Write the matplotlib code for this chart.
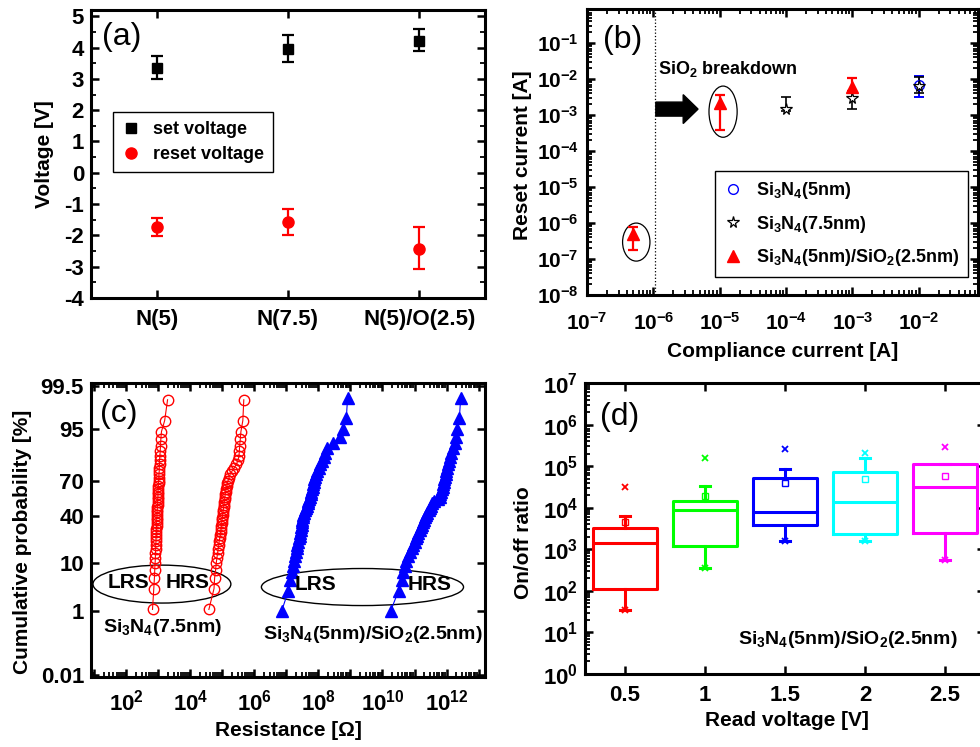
import math
import numpy as np
import matplotlib
matplotlib.use("Agg")
import matplotlib.pyplot as plt
from matplotlib.patches import Ellipse, FancyArrow
from matplotlib.lines import Line2D
from matplotlib import ticker

# ---- (a) set / reset voltage per stack
stacks = ["N(5)", "N(7.5)", "N(5)/O(2.5)"]
set_v = [3.36, 3.96, 4.22]
set_lo = [2.98, 3.55, 3.89]
set_hi = [3.73, 4.39, 4.59]
reset_v = [-1.72, -1.56, -2.42]
reset_lo = [-2.01, -1.98, -3.08]
reset_hi = [-1.43, -1.16, -1.74]

# ---- (b) reset current vs compliance current
cc_n5 = [1e-2]
ir_n5 = [6.8e-3]
ir_n5_lo = [3.2e-3]
ir_n5_hi = [1.2e-2]
cc_n75 = [1e-4, 1e-3, 1e-2]
ir_n75 = [1.5e-3, 2.9e-3, 6.5e-3]
ir_n75_lo = [1.3e-3, 1.5e-3, 4.1e-3]
ir_n75_hi = [3.2e-3, 4.7e-3, 1.12e-2]
cc_no = [5e-7, 1e-5, 1e-3]
ir_no = [5.1e-7, 2.1e-3, 5.9e-3]
ir_no_lo = [1.8e-7, 3.8e-4, 4.5e-3]
ir_no_hi = [7.9e-7, 3.5e-3, 1.07e-2]

# ---- (c) resistance distributions, log10(R) sorted
red_lrs_log = [2.82, 2.86, 2.88, 2.89, 2.90, 2.91, 2.91, 2.92, 2.92, 2.93,
               2.93, 2.94, 2.94, 2.94, 2.95, 2.95, 2.95, 2.96, 2.96, 2.96,
               2.97, 2.97, 2.98, 2.98, 2.98, 2.99, 2.99, 2.99, 3.00, 3.00,
               3.01, 3.01, 3.02, 3.02, 3.03, 3.03, 3.04, 3.04, 3.05, 3.06,
               3.07, 3.08, 3.10, 3.20, 3.29]
red_hrs_log = [4.58, 4.74, 4.76, 4.79, 4.81, 4.83, 4.85, 4.87, 4.89, 4.90,
               4.92, 4.94, 4.95, 4.96, 4.97, 4.98, 4.99, 5.00, 5.01, 5.02,
               5.03, 5.04, 5.05, 5.06, 5.07, 5.08, 5.09, 5.10, 5.12, 5.14,
               5.16, 5.18, 5.21, 5.24, 5.30, 5.37, 5.44, 5.49, 5.52, 5.53,
               5.54, 5.56, 5.58, 5.64, 5.67]
blue_lrs_log = [6.85, 7.06, 7.12, 7.17, 7.21, 7.24, 7.27, 7.30, 7.32, 7.34,
                7.36, 7.39, 7.41, 7.43, 7.45, 7.47, 7.48, 7.49, 7.50, 7.52,
                7.53, 7.56, 7.59, 7.62, 7.64, 7.66, 7.68, 7.71, 7.74, 7.77,
                7.78, 7.80, 7.82, 7.84, 7.85, 7.87, 7.90, 7.93, 7.97, 8.02,
                8.06, 8.11, 8.17, 8.22, 8.28, 8.45, 8.66, 8.77, 8.87, 8.91]
blue_hrs_log = [10.25, 10.50, 10.62, 10.65, 10.69, 10.74, 10.80, 10.86, 10.91, 10.96,
                11.00, 11.04, 11.08, 11.12, 11.16, 11.20, 11.24, 11.27, 11.30, 11.33,
                11.36, 11.40, 11.44, 11.48, 11.52, 11.56, 11.62, 11.72, 11.78, 11.80,
                11.83, 11.86, 11.88, 11.90, 11.92, 11.93, 11.95, 11.97, 11.99, 12.01,
                12.03, 12.07, 12.11, 12.15, 12.20, 12.25, 12.29, 12.33, 12.40, 12.44]
prob_ticks = [0.01, 1, 10, 40, 70, 95, 99.5]
prob_labels = ["0.01", "1", "10", "40", "70", "95", "99.5"]

# ---- (d) on/off ratio box statistics per read voltage
read_v = [0.5, 1.0, 1.5, 2.0, 2.5]
ratio_whislo = [35, 360, 1550, 1550, 540]
ratio_q1 = [110, 1200, 3800, 2330, 2450]
ratio_med = [1400, 8700, 8000, 13700, 32000]
ratio_q3 = [3300, 14800, 53000, 72000, 112000]
ratio_whishi = [6300, 33000, 84000, 160000, 115000]
ratio_mean = [4600, 19000, 39000, 49000, 59000]
ratio_max = [32000, 160000, 260000, 210000, 285000]
box_colors = ["#ff0000", "#00ff00", "#0000ff", "#00ffff", "#ff00ff"]

plt.rcParams.update({
    "font.family": ["Liberation Sans", "DejaVu Sans"],
    "font.weight": "bold",
    "axes.labelweight": "bold",
    "mathtext.default": "regular",
    "axes.unicode_minus": False,
    "axes.linewidth": 2.2,
    "font.size": 15,
})

W, H = 980, 747
fig = plt.figure(figsize=(W / 100, H / 100), dpi=100)


def place(l, r, t, b):
    return fig.add_axes([l / W, 1 - b / H, (r - l) / W, (b - t) / H])


def style(ax):
    ax.tick_params(which="both", direction="in", top=True, right=True, labelsize=16)
    ax.tick_params(which="major", length=6, width=1.8, pad=5)
    ax.tick_params(which="minor", length=3.5, width=1.3)


_erf = np.vectorize(math.erf, otypes=[float])


def prob_to_z(p):
    q = np.clip(np.asarray(p, dtype=float) / 100.0, 1e-9, 1 - 1e-9)
    lo = np.full(q.shape, -8.0)
    hi = np.full(q.shape, 8.0)
    for _ in range(50):
        mid = 0.5 * (lo + hi)
        below = 0.5 * (1 + _erf(mid / np.sqrt(2))) < q
        lo = np.where(below, mid, lo)
        hi = np.where(below, hi, mid)
    return 0.5 * (lo + hi)


def z_to_prob(z):
    return 50.0 * (1 + _erf(np.asarray(z, dtype=float) / np.sqrt(2)))


# ================= (a)
ax = place(91, 485, 10, 298)
style(ax)
xa = np.arange(1, len(stacks) + 1)
ax.errorbar(xa, set_v, yerr=[np.subtract(set_v, set_lo), np.subtract(set_hi, set_v)],
            fmt="s", color="k", ms=7, capsize=4.5, elinewidth=1.6, capthick=1.6)
ax.errorbar(xa, reset_v, yerr=[np.subtract(reset_v, reset_lo), np.subtract(reset_hi, reset_v)],
            fmt="o", color="#ff0000", ms=8, capsize=4.5, elinewidth=1.6, capthick=1.6)
ax.set_xlim(0.5, 3.5)
ax.set_ylim(-4, 5.2)
ax.set_xticks(xa)
ax.set_xticklabels(stacks, fontsize=16)
ax.tick_params(axis="x", pad=8)
ax.yaxis.set_major_locator(ticker.MultipleLocator(1))
ax.yaxis.set_minor_locator(ticker.MultipleLocator(0.5))
ax.set_ylabel("Voltage [V]", fontsize=15)
ax.yaxis.set_label_coords(-0.095, 0.5)
hs = [Line2D([], [], ls="", marker="s", color="k", ms=7),
      Line2D([], [], ls="", marker="o", color="#ff0000", ms=8)]
leg = ax.legend(hs, ["set voltage", "reset voltage"], loc="upper left",
                bbox_to_anchor=(0.056, 0.646), borderaxespad=0, fancybox=False,
                edgecolor="k", framealpha=1, fontsize=13, handlelength=1.0,
                handletextpad=0.7, labelspacing=0.45, borderpad=0.5)
leg.get_frame().set_linewidth(1.0)
ax.text(0.028, 0.905, "(a)", transform=ax.transAxes, fontsize=23,
        fontweight="normal", va="center")

# ================= (b)
ax = place(587, 978, 9, 295)
style(ax)
ax.set_xscale("log")
ax.set_yscale("log")
ax.errorbar(cc_n5, ir_n5, yerr=[np.subtract(ir_n5, ir_n5_lo), np.subtract(ir_n5_hi, ir_n5)],
            fmt="none", ecolor="#0000ff", capsize=3.3, elinewidth=1.4, capthick=1.4)
ax.errorbar(cc_n75, ir_n75, yerr=[np.subtract(ir_n75, ir_n75_lo), np.subtract(ir_n75_hi, ir_n75)],
            fmt="none", ecolor="k", capsize=3.3, elinewidth=1.2, capthick=1.2)
ax.errorbar(cc_no, ir_no, yerr=[np.subtract(ir_no, ir_no_lo), np.subtract(ir_no_hi, ir_no)],
            fmt="none", ecolor="#ff0000", capsize=3.3, elinewidth=1.6, capthick=1.6)
ax.plot(cc_n5, ir_n5, ls="", marker="o", ms=7, mfc="none", mec="#0000ff", mew=1.0,
        label="Si$_3$N$_4$(5nm)")
ax.plot(cc_n75, ir_n75, ls="", marker="*", ms=8.5, mfc="white", mec="k", mew=0.9,
        label="Si$_3$N$_4$(7.5nm)")
ax.plot(cc_no, ir_no, ls="", marker="^", ms=9, color="#ff0000",
        label="Si$_3$N$_4$(5nm)/SiO$_2$(2.5nm)")
ax.set_xlim(1e-7, 7.8e-2)
ax.set_ylim(1e-8, 0.88)
for axis in (ax.xaxis, ax.yaxis):
    axis.set_major_locator(ticker.LogLocator(base=10, numticks=15))
    axis.set_minor_locator(ticker.LogLocator(base=10, subs=np.arange(2, 10), numticks=15))
    axis.set_minor_formatter(ticker.NullFormatter())
ax.tick_params(axis="x", pad=12, labelsize=15)
ax.tick_params(axis="y", pad=6, labelsize=15)
ax.axvline(1.05e-6, color="k", ls=":", lw=0.9)
ax.set_xlabel("Compliance current [A]", fontsize=15)
ax.xaxis.set_label_coords(0.5, -0.165)
ax.set_ylabel("Reset current [A]", fontsize=15)
ax.yaxis.set_label_coords(-0.14, 0.49)
leg = ax.legend(loc="upper left", bbox_to_anchor=(0.327, 0.434), borderaxespad=0,
                fancybox=False, edgecolor="k", framealpha=1, fontsize=13,
                handlelength=1.0, handletextpad=0.8, labelspacing=0.7, borderpad=0.5)
leg.get_frame().set_linewidth(1.0)
ax.add_patch(Ellipse((0.126, 0.185), 0.070, 0.133, transform=ax.transAxes,
                     fill=False, ec="k", lw=0.9))
ax.add_patch(Ellipse((0.348, 0.641), 0.072, 0.179, transform=ax.transAxes,
                     fill=False, ec="k", lw=0.9))
ax.add_patch(FancyArrow(0.176, 0.650, 0.108, 0, width=0.049, head_width=0.101,
                        head_length=0.038, length_includes_head=True,
                        transform=ax.transAxes, color="k"))
ax.text(0.182, 0.790, "SiO$_2$ breakdown", transform=ax.transAxes, fontsize=13,
        va="center")
ax.text(0.041, 0.892, "(b)", transform=ax.transAxes, fontsize=23,
        fontweight="normal", va="center")

# ================= (c)
ax = place(91, 485, 383, 677)
style(ax)
ax.set_xscale("log")
ax.set_yscale("function", functions=(prob_to_z, z_to_prob))
for logs, col, mk in [(red_lrs_log, "#ff0000", "o"), (red_hrs_log, "#ff0000", "o"),
                      (blue_lrs_log, "#0000ff", "^"), (blue_hrs_log, "#0000ff", "^")]:
    n = len(logs)
    cum = (np.arange(1, n + 1) - 0.5) / n * 100
    if mk == "o":
        ax.plot(10 ** np.array(logs), cum, color=col, lw=0.8, marker="o", ms=7.5,
                mfc="none", mec=col, mew=1.0)
    else:
        ax.plot(10 ** np.array(logs), cum, color=col, lw=0.8, marker="^", ms=8.5,
                mfc=col, mec=col)
ax.set_xlim(10 ** 0.9, 10 ** 13.2)
ax.set_ylim(0.0085, 99.6)
ax.set_yticks(prob_ticks)
ax.set_yticklabels(prob_labels)
ax.yaxis.set_minor_locator(ticker.NullLocator())
ax.xaxis.set_major_locator(ticker.LogLocator(base=10, numticks=20))
ax.xaxis.set_minor_locator(ticker.LogLocator(base=10, subs=np.arange(2, 10), numticks=20))
ax.xaxis.set_minor_formatter(ticker.NullFormatter())
ax.xaxis.set_major_formatter(ticker.FuncFormatter(
    lambda v, pos: "$\\mathdefault{10^{%d}}$" % round(np.log10(v))
    if round(np.log10(v)) % 2 == 0 else ""))
ax.tick_params(axis="x", pad=9)
ax.set_xlabel("Resistance [Ω]", fontsize=15)
ax.xaxis.set_label_coords(0.5, -0.15)
ax.set_ylabel("Cumulative probability [%]", fontsize=15)
ax.yaxis.set_label_coords(-0.15, 0.46)
ax.add_patch(Ellipse((0.180, 0.316), 0.350, 0.129, transform=ax.transAxes,
                     fill=False, ec="k", lw=1.0))
ax.add_patch(Ellipse((0.689, 0.306), 0.513, 0.126, transform=ax.transAxes,
                     fill=False, ec="k", lw=1.0))
for tx, ty, s in [(0.094, 0.323, "LRS"), (0.246, 0.323, "HRS"),
                  (0.569, 0.313, "LRS"), (0.860, 0.313, "HRS")]:
    ax.text(tx, ty, s, transform=ax.transAxes, fontsize=15, ha="center", va="center")
ax.text(0.183, 0.167, "Si$_3$N$_4$(7.5nm)", transform=ax.transAxes, fontsize=14,
        ha="center", va="center")
ax.text(0.716, 0.143, "Si$_3$N$_4$(5nm)/SiO$_2$(2.5nm)", transform=ax.transAxes,
        fontsize=14, ha="center", va="center")
ax.text(0.023, 0.895, "(c)", transform=ax.transAxes, fontsize=23,
        fontweight="normal", va="center")

# ================= (d)
ax = place(585, 985, 383, 674)
style(ax)
ax.set_yscale("log")
for i, v in enumerate(read_v):
    st = [dict(med=ratio_med[i], q1=ratio_q1[i], q3=ratio_q3[i],
               whislo=ratio_whislo[i], whishi=ratio_whishi[i], mean=ratio_mean[i],
               fliers=[ratio_max[i], ratio_whislo[i]])]
    c = box_colors[i]
    ax.bxp(st, positions=[v], widths=0.4, capwidths=0.06, showmeans=True,
           boxprops=dict(color=c, lw=2.2), medianprops=dict(color=c, lw=2.2),
           whiskerprops=dict(color=c, lw=2.2), capprops=dict(color=c, lw=2.2),
           meanprops=dict(marker="s", ms=4, mfc="none", mec=c, mew=1.0),
           flierprops=dict(marker="x", ms=4, mec=c, mew=1.3))
ax.set_xlim(0.25, 2.75)
ax.set_ylim(1, 1e7)
ax.set_xticks(read_v)
ax.set_xticklabels(["0.5", "1", "1.5", "2", "2.5"])
ax.yaxis.set_major_locator(ticker.LogLocator(base=10, numticks=15))
ax.yaxis.set_minor_locator(ticker.LogLocator(base=10, subs=np.arange(2, 10), numticks=15))
ax.yaxis.set_minor_formatter(ticker.NullFormatter())
ax.tick_params(axis="x", pad=8)
ax.set_xlabel("Read voltage [V]", fontsize=15)
ax.xaxis.set_label_coords(0.504, -0.128)
ax.set_ylabel("On/off ratio", fontsize=15)
ax.yaxis.set_label_coords(-0.13, 0.45)
ax.text(0.658, 0.117, "Si$_3$N$_4$(5nm)/SiO$_2$(2.5nm)", transform=ax.transAxes,
        fontsize=14, ha="center", va="center")
ax.text(0.0375, 0.883, "(d)", transform=ax.transAxes, fontsize=23,
        fontweight="normal", va="center")

fig.savefig("out.png", dpi=100)
